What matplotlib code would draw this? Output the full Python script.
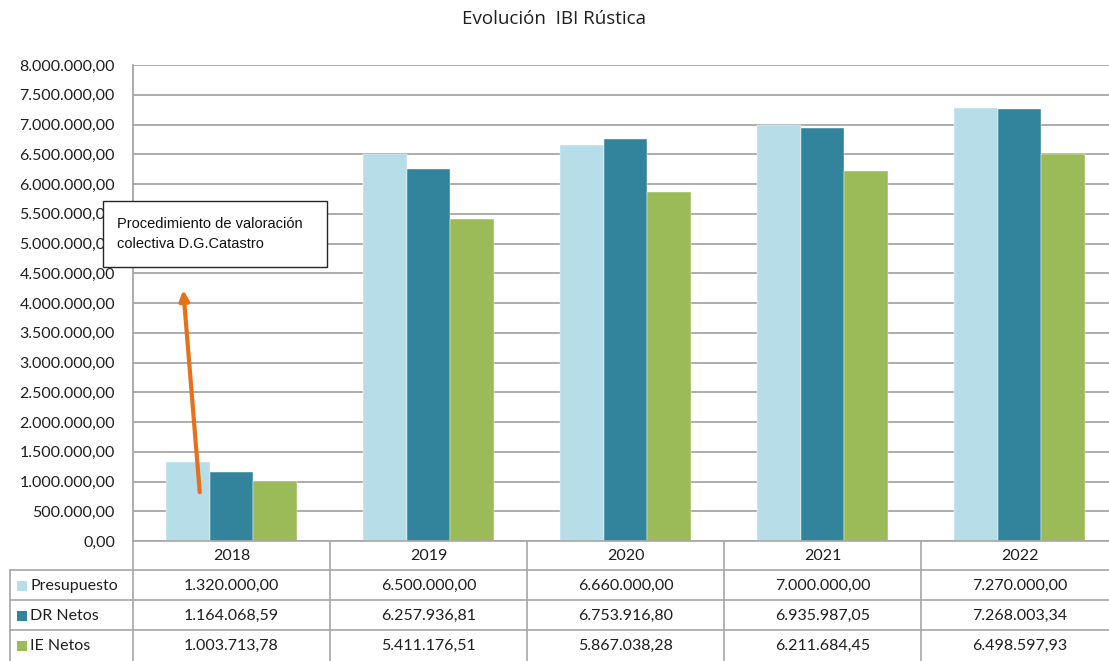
import matplotlib
matplotlib.use("Agg")
import matplotlib.pyplot as plt
from matplotlib.patches import Rectangle
import numpy as np

years = ["2018", "2019", "2020", "2021", "2022"]
series_names = ["Presupuesto", "DR Netos", "IE Netos"]
presupuesto = [1320000.00, 6500000.00, 6660000.00, 7000000.00, 7270000.00]
dr_netos = [1164068.59, 6257936.81, 6753916.80, 6935987.05, 7268003.34]
ie_netos = [1003713.78, 5411176.51, 5867038.28, 6211684.45, 6498597.93]
colors = ["#B7DDE8", "#31849B", "#9BBB59"]
title = "Evolución  IBI Rústica"
note = "Procedimiento de valoración\ncolectiva D.G.Catastro"

def fmt(v):
    s = f"{v:,.2f}"
    return s.replace(",", "X").replace(".", ",").replace("X", ".")

W, H = 1109, 661
fig = plt.figure(figsize=(W / 100, H / 100), dpi=100)
FONT = ["Lato", "DejaVu Sans"]
plt.rcParams["font.family"] = FONT
FS = 11.5
TXT = "#1F1F1F"

def fx(px):
    return px / W

def fy(py):
    return 1 - py / H

grid_c = "#A6A6A6"
x_left, x_right = 133, 1118
y_top, y_bot = 65, 541
ax = fig.add_axes([fx(x_left), fy(y_bot), fx(x_right - x_left), (y_bot - y_top) / H])
ax.set_xlim(-0.5, len(years) - 0.5)
ax.set_ylim(0, 8000000)
ax.set_yticks(np.arange(0, 8000001, 500000))
ax.set_yticklabels([fmt(v) for v in np.arange(0, 8000001, 500000)], fontsize=FS, color=TXT)
ax.tick_params(axis="y", length=0, pad=13)
ax.set_xticks([])
ax.yaxis.grid(True, color=grid_c, lw=1.3)
ax.set_axisbelow(True)
for s in ["top", "right", "bottom"]:
    ax.spines[s].set_visible(False)
ax.spines["left"].set_color(grid_c)
ax.spines["left"].set_linewidth(1.3)

x = np.arange(len(years))
bw = 0.223
for i, (vals, c) in enumerate(zip([presupuesto, dr_netos, ie_netos], colors)):
    ax.bar(x + (i - 1) * bw, vals, width=bw, color=c, edgecolor="white", linewidth=0.3, zorder=2)

# arrow
ax.annotate("", xy=(-0.246, 4270000), xytext=(-0.16, 773000),
            arrowprops=dict(arrowstyle="-|>,head_length=0.6,head_width=0.28", color="#E8701A", lw=3),
            zorder=5, annotation_clip=False)

# annotation box
bx0, by0, bx1, by1 = 103, 201, 327, 267
fig.patches.append(Rectangle((fx(bx0), fy(by1)), fx(bx1 - bx0), (by1 - by0) / H,
                             transform=fig.transFigure, facecolor="white", edgecolor="#262626",
                             lw=1.0, zorder=10))
fig.text(fx(117), fy(234), note, fontsize=10.5, va="center", ha="left",
         family=["Liberation Sans Narrow", "Liberation Sans", "DejaVu Sans"],
         linespacing=1.55, zorder=11, color="#111111")

# title
fig.text(0.5, fy(19), title, ha="center", va="center", fontsize=13.5, color=TXT,
         family=["Open Sans", "DejaVu Sans"])

# table
tab_left = 10
row_y = [541, 570, 600, 630, 660]
col_x = [x_left + k * (x_right - x_left) / len(years) for k in range(len(years) + 1)]
lw = 1.2
fig.add_artist(plt.Line2D([fx(x_left), fx(x_right)], [fy(row_y[0])] * 2, color=grid_c, lw=lw,
                          transform=fig.transFigure))
for yy in row_y[1:4]:
    fig.add_artist(plt.Line2D([fx(tab_left), fx(x_right)], [fy(yy)] * 2, color=grid_c, lw=lw,
                              transform=fig.transFigure))
fig.add_artist(plt.Line2D([fx(tab_left)] * 2, [fy(row_y[1]), fy(665)], color=grid_c, lw=lw,
                          transform=fig.transFigure))
for cx in col_x[:-1]:
    fig.add_artist(plt.Line2D([fx(cx)] * 2, [fy(row_y[0]), fy(665)], color=grid_c, lw=lw,
                              transform=fig.transFigure))
for k, yr in enumerate(years):
    cxm = (col_x[k] + col_x[k + 1]) / 2
    fig.text(fx(cxm), fy((row_y[0] + row_y[1]) / 2 + 1), yr, ha="center", va="center",
             fontsize=FS, color=TXT)
for r, (name, vals, c) in enumerate(zip(series_names, [presupuesto, dr_netos, ie_netos], colors)):
    ym = (row_y[r + 1] + row_y[r + 2]) / 2 + 1
    fig.patches.append(Rectangle((fx(17), fy(ym + 5)), fx(10), 10 / H, transform=fig.transFigure,
                                 facecolor=c, edgecolor="none"))
    fig.text(fx(30), fy(ym), name, ha="left", va="center", fontsize=FS, color=TXT)
    for k, v in enumerate(vals):
        cxm = (col_x[k] + col_x[k + 1]) / 2
        fig.text(fx(cxm), fy(ym), fmt(v), ha="center", va="center", fontsize=FS, color=TXT)

fig.savefig("out.png", dpi=100, facecolor="white")
